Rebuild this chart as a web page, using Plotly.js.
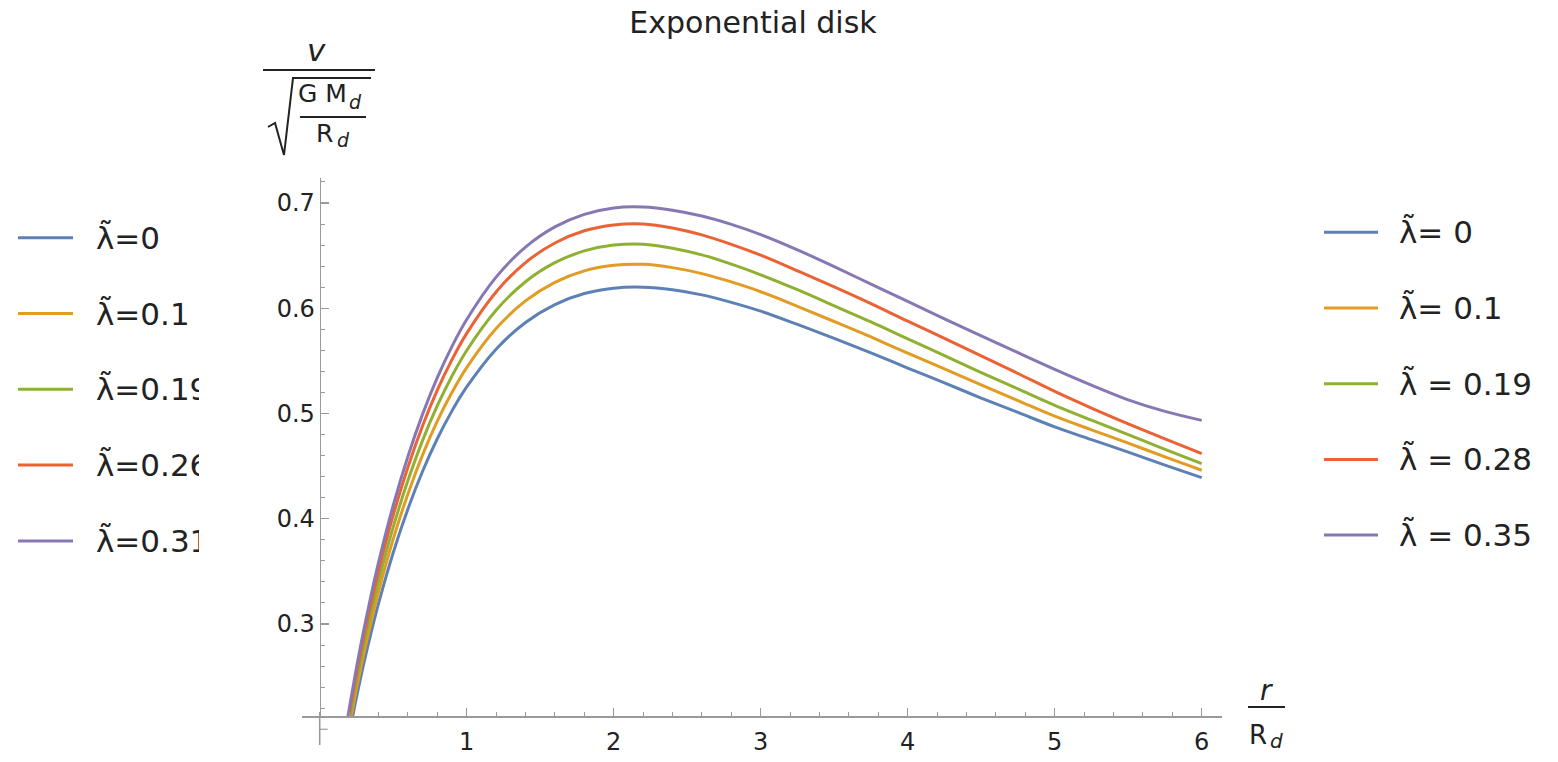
<!DOCTYPE html>
<html>
<head>
<meta charset="utf-8">
<script src="https://cdn.plot.ly/plotly-3.0.1.min.js"></script>
<style>
  html, body { margin: 0; padding: 0; background: #ffffff; }
  #chart { width: 1558px; height: 762px; }
</style>
</head>
<body>
<div id="chart"></div>
<script>
// ---------------- data ----------------
const r = [0.18, 0.2, 0.22, 0.25, 0.3, 0.35, 0.4, 0.5, 0.6, 0.7, 0.8, 0.9, 1.0, 1.2, 1.4, 1.6, 1.8,
           2.0, 2.2, 2.4, 2.6, 2.8, 3.0, 3.25, 3.5, 3.75, 4.0, 4.25, 4.5, 4.75, 5.0, 5.25, 5.5, 5.75, 6.0];

const vLam000 = [0.1799, 0.1950, 0.2092, 0.2303, 0.2625, 0.2920, 0.3193, 0.3677, 0.4093, 0.4451, 0.4760, 0.5025,
                 0.5252, 0.5611, 0.5865, 0.6035, 0.6140, 0.6191, 0.6200, 0.6176, 0.6127, 0.6056, 0.5972, 0.5846,
                 0.5714, 0.5576, 0.5432, 0.5291, 0.5147, 0.5010, 0.4873, 0.4752, 0.4633, 0.4510, 0.4391];
const vLam010 = [0.1862, 0.2018, 0.2165, 0.2384, 0.2717, 0.3022, 0.3305, 0.3806, 0.4236, 0.4607, 0.4927, 0.5201,
                 0.5436, 0.5807, 0.6070, 0.6246, 0.6355, 0.6408, 0.6417, 0.6386, 0.6329, 0.6250, 0.6157, 0.6018,
                 0.5874, 0.5727, 0.5573, 0.5423, 0.5271, 0.5123, 0.4975, 0.4845, 0.4719, 0.4587, 0.4461];
const vLam019 = [0.1918, 0.2079, 0.2230, 0.2455, 0.2798, 0.3113, 0.3404, 0.3920, 0.4363, 0.4745, 0.5074, 0.5357,
                 0.5599, 0.5981, 0.6252, 0.6433, 0.6545, 0.6600, 0.6609, 0.6571, 0.6507, 0.6419, 0.6318, 0.6176,
                 0.6023, 0.5870, 0.5709, 0.5550, 0.5389, 0.5233, 0.5078, 0.4937, 0.4800, 0.4659, 0.4523];
const vLam028 = [0.1973, 0.2139, 0.2295, 0.2526, 0.2880, 0.3203, 0.3503, 0.4034, 0.4490, 0.4883, 0.5222, 0.5512,
                 0.5761, 0.6155, 0.6434, 0.6620, 0.6736, 0.6792, 0.6801, 0.6763, 0.6697, 0.6607, 0.6504, 0.6355,
                 0.6203, 0.6044, 0.5877, 0.5714, 0.5548, 0.5380, 0.5210, 0.5052, 0.4902, 0.4758, 0.4619];
const vLam035 = [0.2018, 0.2188, 0.2347, 0.2584, 0.2945, 0.3276, 0.3583, 0.4126, 0.4592, 0.4994, 0.5341, 0.5638,
                 0.5893, 0.6296, 0.6581, 0.6773, 0.6892, 0.6953, 0.6962, 0.6932, 0.6876, 0.6797, 0.6700, 0.6555,
                 0.6395, 0.6230, 0.6065, 0.5900, 0.5738, 0.5578, 0.5420, 0.5270, 0.5130, 0.5020, 0.4935];

const seriesNames = ["λ̃= 0", "λ̃= 0.1", "λ̃ = 0.19", "λ̃ = 0.28", "λ̃ = 0.35"];
const leftLegendNames = ["λ̃=0", "λ̃=0.1", "λ̃=0.19", "λ̃=0.26", "λ̃=0.31"];

const xTickVals = [1, 2, 3, 4, 5, 6];
const xTickText = ["1", "2", "3", "4", "5", "6"];
const yTickVals = [0.3, 0.4, 0.5, 0.6, 0.7];
const yTickText = ["0.3", "0.4", "0.5", "0.6", "0.7"];

const titleText = "Exponential disk";

// ---------------- styling / geometry ----------------
const colors = ["#5E81B5", "#E19C24", "#8FB032", "#EB6235", "#8778B3"];
const FONT = "DejaVu Sans, Noto Sans, Liberation Sans, sans-serif";
const TXT = "#222222";
const AXC = "#9a9a9a";

const W = 1558, H = 762;
const M = { l: 302, r: 336, t: 178, b: 46 };
const PW = W - M.l - M.r, PH = H - M.t - M.b;
const xRange = [-0.1204, 6.138];
const yRange = [0.21259, 0.72375];
const yAxisBottom = 0.185;   // where the vertical axis line ends below the horizontal axis
const yExtraTick = 0.2;      // major tick drawn below the horizontal axis

const px2x = px => (px - M.l) / PW;
const py2y = py => (M.t + PH - py) / PH;
const dataX2paper = v => (v - xRange[0]) / (xRange[1] - xRange[0]);
const dataY2paper = v => (v - yRange[0]) / (yRange[1] - yRange[0]);
const yAxisPos = dataX2paper(0);

const series = [vLam000, vLam010, vLam019, vLam028, vLam035];
const traces = series.map((vals, i) => ({
  type: "scatter", mode: "lines", x: r, y: vals, name: seriesNames[i],
  line: { color: colors[i], width: 3, shape: "spline", smoothing: 1 },
  showlegend: false, hoverinfo: "skip"
}));

const shapes = [];
const annotations = [];
const line = (x0, y0, x1, y1, color, width) => shapes.push({
  type: "line", xref: "paper", yref: "paper", x0: px2x(x0), y0: py2y(y0), x1: px2x(x1), y1: py2y(y1),
  line: { color: color, width: width }
});
const text = (t, x, y, size, xanchor, extra) => annotations.push(Object.assign({
  text: t, xref: "paper", yref: "paper", x: px2x(x), y: py2y(y), showarrow: false,
  xanchor: xanchor || "center", yanchor: "middle", font: { family: FONT, size: size, color: TXT }
}, extra || {}));

// vertical axis continuation below the horizontal axis, with its 0.2 tick
shapes.push({ type: "line", xref: "paper", yref: "paper", x0: yAxisPos, x1: yAxisPos,
  y0: 0, y1: dataY2paper(yAxisBottom), line: { color: AXC, width: 1.6 } });
shapes.push({ type: "line", xref: "paper", yref: "paper", x0: yAxisPos, x1: yAxisPos + 8 / PW,
  y0: dataY2paper(yExtraTick), y1: dataY2paper(yExtraTick), line: { color: AXC, width: 1.2 } });

// y-axis label: v / sqrt(G M_d / R_d)
text("<i>v</i>", 316.5, 50, 31);
line(263, 70, 375, 70, TXT, 2.2);
const sq = [[268, 127], [275, 123], [284, 155], [293, 78], [371, 78]];
shapes.push({ type: "path", xref: "paper", yref: "paper",
  path: sq.map((p, i) => (i ? "L" : "M") + px2x(p[0]) + "," + py2y(p[1])).join(" "),
  line: { color: TXT, width: 2 } });
text("G M", 322.5, 94, 25);
text("<i>d</i>", 355, 102.5, 19);
line(300, 117, 366, 117, TXT, 2);
text("R", 324, 134, 25);
text("<i>d</i>", 343, 140, 19);

// x-axis label: r / R_d
text("<i>r</i>", 1266, 690, 28);
line(1248, 707, 1285, 707, TXT, 2);
text("R", 1258, 735, 26);
text("<i>d</i>", 1276, 741, 20);

// right legend
seriesNames.forEach((nm, i) => {
  const y = 232.3 + i * 75.7;
  line(1324, y, 1378, y, colors[i], 3);
  text(nm, 1397, y, 31, "left");
});
// left legend (its right edge is cut off in the picture)
leftLegendNames.forEach((nm, i) => {
  const y = 237.7 + i * 75.8;
  line(18, y, 73, y, colors[i], 3);
  text(nm, 95, y, 31, "left", { width: 103, align: "left", borderpad: 0 });
});

const layout = {
  width: W, height: H, margin: M, paper_bgcolor: "#ffffff", plot_bgcolor: "rgba(0,0,0,0)",
  showlegend: false,
  title: { text: titleText, font: { family: FONT, size: 30, color: TXT },
           xref: "container", yref: "container", x: 753 / W, xanchor: "center", y: 1 - 22 / H, yanchor: "middle" },
  xaxis: {
    range: xRange, showgrid: false, zeroline: false, showline: true, linecolor: AXC, linewidth: 1.6,
    ticks: "inside", ticklen: 8, tickwidth: 1.2, tickcolor: AXC,
    tickmode: "array", tickvals: xTickVals, ticktext: xTickText, ticklabelstandoff: 4,
    tickfont: { family: FONT, size: 24, color: TXT },
    minor: { tickmode: "linear", tick0: 0, dtick: 0.2, ticks: "inside", ticklen: 4, tickwidth: 1, tickcolor: AXC, showgrid: false },
    fixedrange: true
  },
  yaxis: {
    range: yRange, anchor: "free", position: yAxisPos, side: "left",
    showgrid: false, zeroline: false, showline: true, linecolor: AXC, linewidth: 1.6,
    ticks: "inside", ticklen: 8, tickwidth: 1.2, tickcolor: AXC,
    tickmode: "array", tickvals: yTickVals, ticktext: yTickText, ticklabelstandoff: 0,
    tickfont: { family: FONT, size: 24, color: TXT },
    minor: { tickmode: "linear", tick0: 0, dtick: 0.02, ticks: "inside", ticklen: 4, tickwidth: 1, tickcolor: AXC, showgrid: false },
    fixedrange: true
  },
  shapes: shapes,
  annotations: annotations
};

Plotly.newPlot("chart", traces, layout, { displayModeBar: false, staticPlot: true });
</script>
</body>
</html>
